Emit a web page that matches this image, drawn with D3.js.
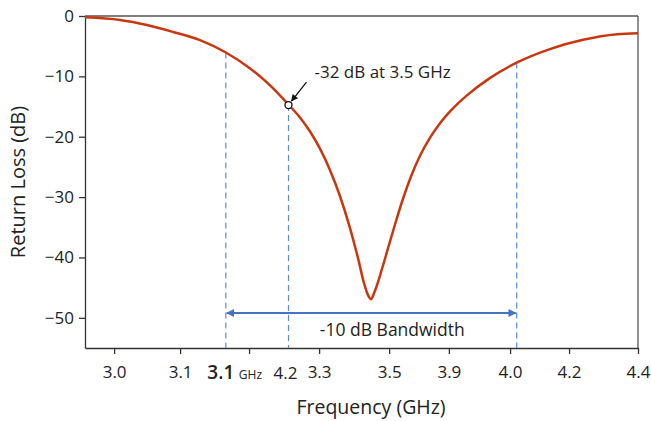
<!DOCTYPE html>
<html>
<head>
<meta charset="utf-8">
<script src="https://cdnjs.cloudflare.com/ajax/libs/d3/7.8.5/d3.min.js"></script>
<style>
  body { margin: 0; background: #fff; }
  svg text { font-family: "Open Sans", "DejaVu Sans", sans-serif; fill: #222; }
</style>
</head>
<body>
<div id="chart"></div>
<script>
// return loss curve
var freq = [2.900, 2.995, 3.068, 3.139, 3.212, 3.282, 3.348, 3.402, 3.453, 3.483,
            3.510, 3.537, 3.565, 3.592, 3.619, 3.641, 3.657, 3.668, 3.676,
            3.684, 3.692, 3.703, 3.722, 3.741, 3.763, 3.784, 3.809, 3.836,
            3.863, 3.898, 3.936, 3.999, 4.072, 4.161, 4.251, 4.343, 4.400];
var returnLoss = [-0.22, -0.66, -1.50, -2.65, -4.00, -6.05, -8.69, -11.50, -14.76, -16.80,
                  -19.10, -21.94, -25.58, -29.90, -35.17, -40.23, -44.31, -46.29, -46.92,
                  -45.92, -44.60, -42.44, -38.47, -34.50, -30.19, -26.62, -23.12, -20.15,
                  -17.77, -15.32, -13.15, -10.25, -7.70, -5.48, -3.95, -3.03, -2.86];

var yTicks = [0, -10, -20, -30, -40, -50];
var xTickPos = [2.979, 3.158, 3.345, 3.535, 3.725, 3.887, 4.053, 4.213, 4.4];
var xTickLabels = ["3.0", "3.1", "", "3.3", "3.5", "3.9", "4.0", "4.2", "4.4"];

var bandEdges = [3.282, 4.071];      // -10 dB bandwidth limits
var bandEdgeDb = [-6.05, -7.7];
var bandArrowDb = -49.2;
var markerFreq = 3.452, markerDb = -14.75;

var W = 651, H = 421;
var margin = { top: 16, right: 13, bottom: 73, left: 85 };
var width = W - margin.left - margin.right;
var height = H - margin.top - margin.bottom;

var svg = d3.select("#chart").append("svg")
    .attr("width", W).attr("height", H);

var defs = svg.append("defs");
defs.append("marker").attr("id", "blueHead")
    .attr("viewBox", "0 0 10 10").attr("refX", 9).attr("refY", 5)
    .attr("markerWidth", 9).attr("markerHeight", 8).attr("markerUnits", "userSpaceOnUse")
    .attr("orient", "auto-start-reverse")
    .append("path").attr("d", "M0,0 L10,5 L0,10 Z").style("fill", "#4472c4");
defs.append("marker").attr("id", "blackHead")
    .attr("viewBox", "0 0 10 10").attr("refX", 9).attr("refY", 5)
    .attr("markerWidth", 8).attr("markerHeight", 7).attr("markerUnits", "userSpaceOnUse")
    .attr("orient", "auto")
    .append("path").attr("d", "M0,0 L10,5 L0,10 Z").style("fill", "#111");

var g = svg.append("g").attr("transform", "translate(" + margin.left + "," + margin.top + ")");

var x = d3.scaleLinear().domain([2.9, 4.4]).range([0, width]);
var y = d3.scaleLinear().domain([-55, 0]).range([height, 0]);

// frame top + right
g.append("line").attr("x1", 0).attr("x2", width).attr("y1", 0).attr("y2", 0)
    .style("stroke", "#555").style("stroke-width", 1.3);
g.append("line").attr("x1", width).attr("x2", width).attr("y1", 0).attr("y2", height)
    .style("stroke", "#555").style("stroke-width", 1.3);

// axes
var yAxis = g.append("g")
    .call(d3.axisLeft(y).tickValues(yTicks).tickFormat(d3.format("d"))
        .tickSize(6).tickSizeOuter(0).tickPadding(5));
var xAxis = g.append("g").attr("transform", "translate(0," + height + ")")
    .call(d3.axisBottom(x).tickValues(xTickPos)
        .tickFormat(function (d, i) { return xTickLabels[i]; })
        .tickSize(6).tickSizeOuter(0).tickPadding(12));

[xAxis, yAxis].forEach(function (a) {
    a.select(".domain").style("stroke", "#333").style("stroke-width", 1.3);
    a.selectAll(".tick line").style("stroke", "#333").style("stroke-width", 1.3);
    a.selectAll(".tick text").style("font-size", "17px").style("fill", "#222")
        .style("font-family", '"Open Sans", sans-serif');
});

// dashed markers
var dashData = [
    { f: bandEdges[0], db: bandEdgeDb[0] },
    { f: markerFreq, db: markerDb },
    { f: bandEdges[1], db: bandEdgeDb[1] }
];
g.selectAll("line.dash").data(dashData).enter().append("line").attr("class", "dash")
    .attr("x1", function (d) { return x(d.f); }).attr("x2", function (d) { return x(d.f); })
    .attr("y1", function (d) { return y(d.db); }).attr("y2", height)
    .style("stroke", "#5b8bd8").style("stroke-width", 1.2).style("stroke-dasharray", "6,4");

// curve
var pts = freq.map(function (f, i) { return [f, returnLoss[i]]; });
var line = d3.line()
    .x(function (d) { return x(d[0]); })
    .y(function (d) { return y(d[1]); })
    .curve(d3.curveMonotoneX);
g.append("path").datum(pts).attr("d", line)
    .style("fill", "none").style("stroke", "#c8380f").style("stroke-width", 2.5);

// bandwidth arrow
g.append("line")
    .attr("x1", x(bandEdges[0]) + 1).attr("x2", x(bandEdges[1]) - 1)
    .attr("y1", y(bandArrowDb)).attr("y2", y(bandArrowDb))
    .attr("marker-start", "url(#blueHead)").attr("marker-end", "url(#blueHead)")
    .style("stroke", "#4472c4").style("stroke-width", 1.8);
g.append("text").text("-10 dB Bandwidth")
    .attr("x", (x(bandEdges[0]) + x(bandEdges[1])) / 2 + 21).attr("y", y(bandArrowDb) + 23)
    .attr("text-anchor", "middle").style("font-size", "17.5px");

// point annotation
var mx = x(markerFreq), my = y(markerDb);
g.append("line").attr("x1", mx + 18).attr("y1", my - 23).attr("x2", mx + 3).attr("y2", my - 4)
    .attr("marker-end", "url(#blackHead)")
    .style("stroke", "#111").style("stroke-width", 1.3);
g.append("circle").attr("cx", mx).attr("cy", my).attr("r", 3.5)
    .style("fill", "#fff").style("stroke", "#111").style("stroke-width", 1.3);
g.append("text").text("-32 dB at 3.5 GHz")
    .attr("x", mx + 26).attr("y", my - 27).style("font-size", "17px");

// extra labels under the axis
var labY = height + 31;
g.append("text").text("3.1").attr("x", x(bandEdges[0]) - 5).attr("y", labY)
    .attr("text-anchor", "middle").style("font-size", "19px").style("font-weight", 600);
g.append("text").text("GHz").attr("x", x(bandEdges[0]) + 13).attr("y", labY)
    .style("font-size", "12px");
g.append("text").text("4.2").attr("x", mx - 3).attr("y", labY)
    .attr("text-anchor", "middle").style("font-size", "17px");

// axis titles
g.append("text").text("Frequency (GHz)")
    .attr("x", 286).attr("y", height + 66)
    .attr("text-anchor", "middle").style("font-size", "19.5px");
g.append("text").text("Return Loss (dB)")
    .attr("transform", "translate(" + (25 - margin.left) + "," + (height / 2) + ") rotate(-90)")
    .attr("text-anchor", "middle").style("font-size", "20px");
</script>
</body>
</html>
